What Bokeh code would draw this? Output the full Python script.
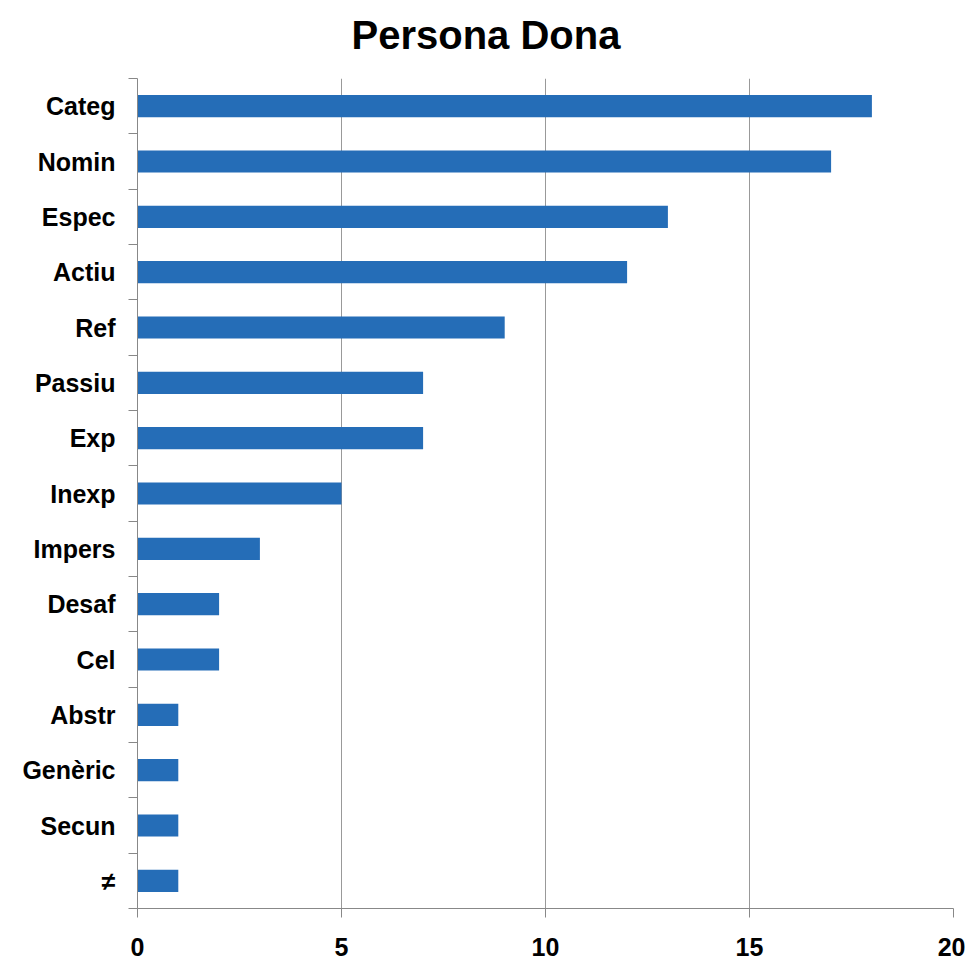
from bokeh.plotting import figure
from bokeh.models import FixedTicker, Range1d, Title
from bokeh.embed import file_html
from bokeh.resources import INLINE

title_text = "Persona Dona"
categories = ["Categ", "Nomin", "Espec", "Actiu", "Ref", "Passiu", "Exp", "Inexp",
              "Impers", "Desaf", "Cel", "Abstr", "Genèric", "Secun", "≠"]
values = [18, 17, 13, 12, 9, 7, 7, 5, 3, 2, 2, 1, 1, 1, 1]
x_ticks = [0, 5, 10, 15, 20]

n = len(categories)
ypos = [n - i - 0.5 for i in range(n)]

p = figure(width=965, height=960, output_backend="svg", toolbar_location=None,
           x_range=Range1d(0, 20), y_range=Range1d(0, n),
           min_border_left=137, min_border_right=12, min_border_top=78, min_border_bottom=52)

p.hbar(y=ypos, right=values, left=0, height=0.4, fill_color="#256db7", line_color=None)

# spacer between frame and title
p.add_layout(Title(text=" ", text_font_size="10px", standoff=0), "above")
p.add_layout(Title(text=title_text, align="left", offset=214, text_font="Liberation Sans",
                   text_font_size="40px", text_font_style="bold", text_color="#000000",
                   standoff=18), "above")

# x axis
p.xaxis.ticker = FixedTicker(ticks=x_ticks, minor_ticks=[])
p.xaxis.axis_line_color = "#888888"
p.xaxis.major_tick_line_color = "#888888"
p.xaxis.major_tick_in = 0
p.xaxis.major_tick_out = 9
p.xaxis.minor_tick_line_color = None
p.xaxis.major_label_text_font = "Liberation Sans"
p.xaxis.major_label_text_font_style = "bold"
p.xaxis.major_label_text_font_size = "25px"
p.xaxis.major_label_text_color = "#000000"
p.xaxis.major_label_standoff = 20

# y axis: labels at centers, minor ticks at boundaries
p.yaxis.ticker = FixedTicker(ticks=ypos, minor_ticks=list(range(n + 1)))
p.yaxis.major_label_overrides = {y: c for y, c in zip(ypos, categories)}
p.yaxis.axis_line_color = "#888888"
p.yaxis.major_tick_line_color = None
p.yaxis.minor_tick_line_color = "#888888"
p.yaxis.minor_tick_in = 0
p.yaxis.minor_tick_out = 9
p.yaxis.major_label_text_font = "Liberation Sans"
p.yaxis.major_label_text_font_style = "bold"
p.yaxis.major_label_text_font_size = "25px"
p.yaxis.major_label_text_color = "#000000"
p.yaxis.major_label_standoff = 13

p.xgrid.ticker = FixedTicker(ticks=x_ticks)
p.xgrid.grid_line_color = "#999999"
p.xgrid.grid_line_width = 1
p.ygrid.grid_line_color = None
p.outline_line_color = None

open("out.html", "w").write(file_html(p, INLINE))
